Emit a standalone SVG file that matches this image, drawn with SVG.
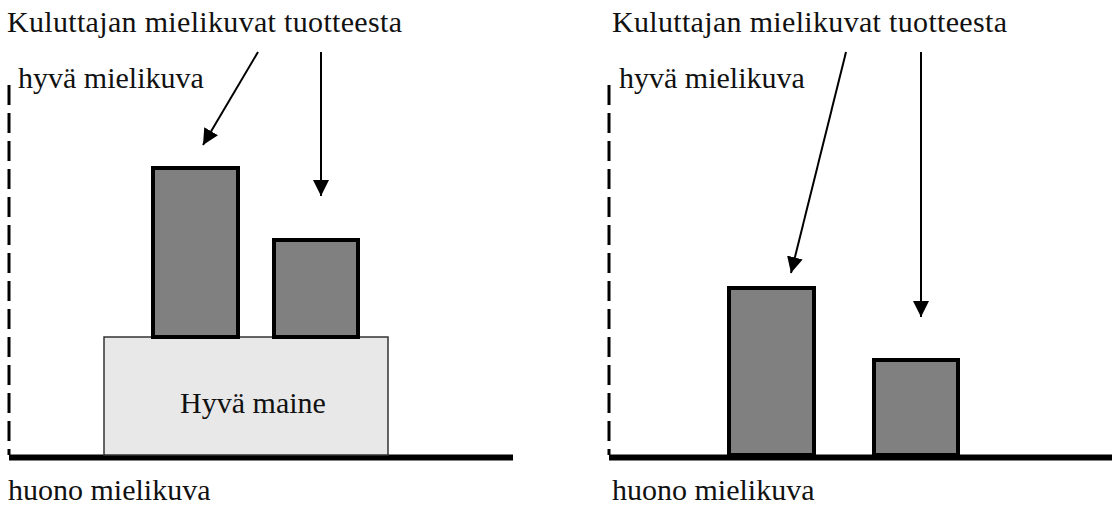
<svg xmlns="http://www.w3.org/2000/svg" width="1112" height="507" viewBox="0 0 1112 507">
  <style>
    text { font-family: "Liberation Serif", "Times New Roman", serif; font-size: 30px; fill: #111; }
    .axis { stroke: #000; stroke-width: 3; stroke-dasharray: 20 8; fill: none; }
    .base { stroke: #000; stroke-width: 6; fill: none; }
    .bar { fill: #808080; stroke: #000; stroke-width: 4; }
    .fame { fill: #e8e8e8; stroke: #333; stroke-width: 1.5; }
    .arrow { stroke: #000; stroke-width: 2; fill: none; marker-end: url(#head); }
  </style>
  <defs>
    <marker id="head" markerUnits="userSpaceOnUse" markerWidth="16" markerHeight="16" refX="15" refY="7.5" orient="auto" viewBox="0 0 15 15">
      <path d="M0,0 L15,7.5 L0,15 z" fill="#000"/>
    </marker>
  </defs>
  <rect width="1112" height="507" fill="#fff"/>

  <!-- left chart: with good reputation -->
  <g id="left-chart">
    <text x="7" y="32" textLength="395" lengthAdjust="spacing">Kuluttajan mielikuvat tuotteesta</text>
    <text x="18" y="88">hyvä mielikuva</text>
    <text x="8" y="500">huono mielikuva</text>
    <line class="axis" x1="9" y1="85" x2="9" y2="455"/>
    <line class="base" x1="9" y1="457.5" x2="513" y2="457.5"/>
    <g id="hyva-maine">
      <rect class="fame" x="104" y="337" width="284" height="118"/>
      <text x="253" y="413" text-anchor="middle">Hyvä maine</text>
    </g>
    <rect id="left-bar-1" class="bar" x="153" y="168" width="85" height="169"/>
    <rect id="left-bar-2" class="bar" x="274" y="240" width="84" height="97"/>
  </g>

  <!-- right chart: without reputation -->
  <g id="right-chart">
    <text x="612" y="32" textLength="395" lengthAdjust="spacing">Kuluttajan mielikuvat tuotteesta</text>
    <text x="619" y="88">hyvä mielikuva</text>
    <text x="612" y="500">huono mielikuva</text>
    <line class="axis" x1="609" y1="85" x2="609" y2="455"/>
    <line class="base" x1="609" y1="457.5" x2="1112" y2="457.5"/>
    <rect id="right-bar-1" class="bar" x="729" y="288" width="85" height="167"/>
    <rect id="right-bar-2" class="bar" x="874" y="360" width="84" height="95"/>
  </g>

  <g id="connectors">
    <line class="arrow" x1="258" y1="52" x2="203" y2="145"/>
    <line class="arrow" x1="321" y1="52" x2="321" y2="196"/>
    <line class="arrow" x1="846" y1="52" x2="791" y2="273"/>
    <line class="arrow" x1="921" y1="52" x2="921" y2="317"/>
  </g>
</svg>
